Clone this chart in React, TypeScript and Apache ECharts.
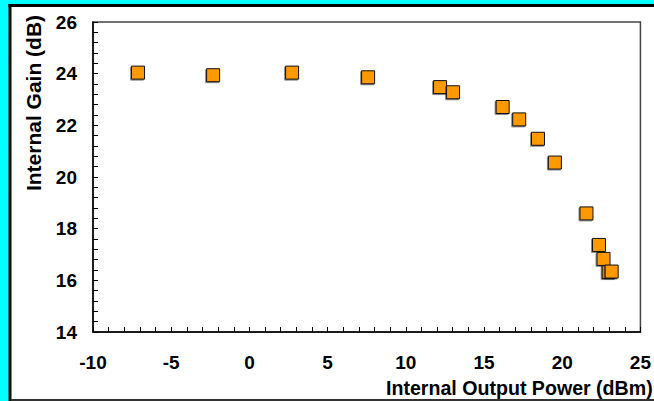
import React, { useEffect, useRef } from "react";
import * as echarts from "echarts";

const outputPower = [-7.12, -2.32, 2.73, 7.59, 12.19, 13.02, 16.19, 17.25, 18.45, 19.53, 21.55, 22.35, 22.64, 22.97, 23.16];
const internalGain = [24.04, 23.94, 24.04, 23.86, 23.48, 23.28, 22.71, 22.23, 21.48, 20.56, 18.59, 17.37, 16.83, 16.32, 16.34];

const xTitle = "Internal Output Power (dBm)";
const yTitle = "Internal Gain (dB)";

const FONT = "'Liberation Sans', Arial, Helvetica, sans-serif";

export default function App() {
  const ref = useRef<HTMLDivElement>(null);
  useEffect(() => {
    if (!ref.current) return;
    const chart = echarts.init(ref.current, undefined, { renderer: "svg" });
    const points = outputPower.map((x, i) => [x, internalGain[i]]);
    chart.setOption({
      animation: false,
      backgroundColor: "#00FFFF",
      graphic: [
        { type: "rect", z: -10, silent: true, shape: { x: 9, y: 4, width: 645, height: 397 }, style: { fill: "#ffffff" } },
        { type: "rect", z: -9, silent: true, shape: { x: 8.5, y: 4, width: 3, height: 397 }, style: { fill: "#000000" } },
        { type: "rect", z: -9, silent: true, shape: { x: 8.5, y: 4, width: 646, height: 3 }, style: { fill: "#000000" } },
        { type: "rect", z: -9, silent: true, shape: { x: 11, y: 399, width: 643, height: 2 }, style: { fill: "#333333" } },
        {
          type: "text",
          z: 10,
          x: 386,
          y: 388,
          style: { text: xTitle, fill: "#000", font: `bold 19.6px ${FONT}`, textAlign: "left", textVerticalAlign: "middle", verticalAlign: "middle" },
        },
        {
          type: "text",
          z: 10,
          x: 33,
          y: 103,
          rotation: Math.PI / 2,
          style: { text: yTitle, fill: "#000", font: `bold 21px ${FONT}`, textAlign: "center", align: "center", textVerticalAlign: "middle", verticalAlign: "middle" },
        },
      ],
      grid: {
        left: 93,
        right: 13,
        top: 22,
        bottom: 69,
        show: true,
        borderColor: "#444",
        borderWidth: 1.5,
        backgroundColor: "transparent",
      },
      xAxis: {
        type: "value",
        min: -10,
        max: 25,
        interval: 5,
        axisLine: { show: true, onZero: false, lineStyle: { color: "#000", width: 1.5 } },
        axisTick: { show: true, inside: true, length: 5, lineStyle: { color: "#000", width: 1 } },
        minorTick: { show: true, splitNumber: 5, length: 5, lineStyle: { color: "#000", width: 1 } },
        splitLine: { show: false },
        minorSplitLine: { show: false },
        axisLabel: { margin: 21, fontSize: 19, fontWeight: "bold", color: "#000", fontFamily: FONT },
      },
      yAxis: {
        type: "value",
        min: 14,
        max: 26,
        interval: 2,
        axisLine: { show: true, onZero: false, lineStyle: { color: "#000", width: 1.5 } },
        axisTick: { show: true, inside: true, length: 5, lineStyle: { color: "#000", width: 1 } },
        minorTick: { show: true, splitNumber: 5, length: 5, lineStyle: { color: "#000", width: 1 } },
        splitLine: { show: false },
        minorSplitLine: { show: false },
        axisLabel: { margin: 16, fontSize: 19, fontWeight: "bold", color: "#000", fontFamily: FONT },
      },
      series: [
        {
          type: "scatter",
          data: points,
          symbol: "rect",
          symbolSize: 13,
          itemStyle: {
            color: "#FF9900",
            borderColor: "#111",
            borderWidth: 1,
            opacity: 1,
            shadowColor: "rgba(0,0,0,0.45)",
            shadowBlur: 1,
            shadowOffsetX: -1,
            shadowOffsetY: 1,
          },
        },
      ],
    });
    return () => chart.dispose();
  }, []);
  return <div ref={ref} style={{ position: "fixed", left: 0, top: 0, width: 654, height: 401 }} />;
}
